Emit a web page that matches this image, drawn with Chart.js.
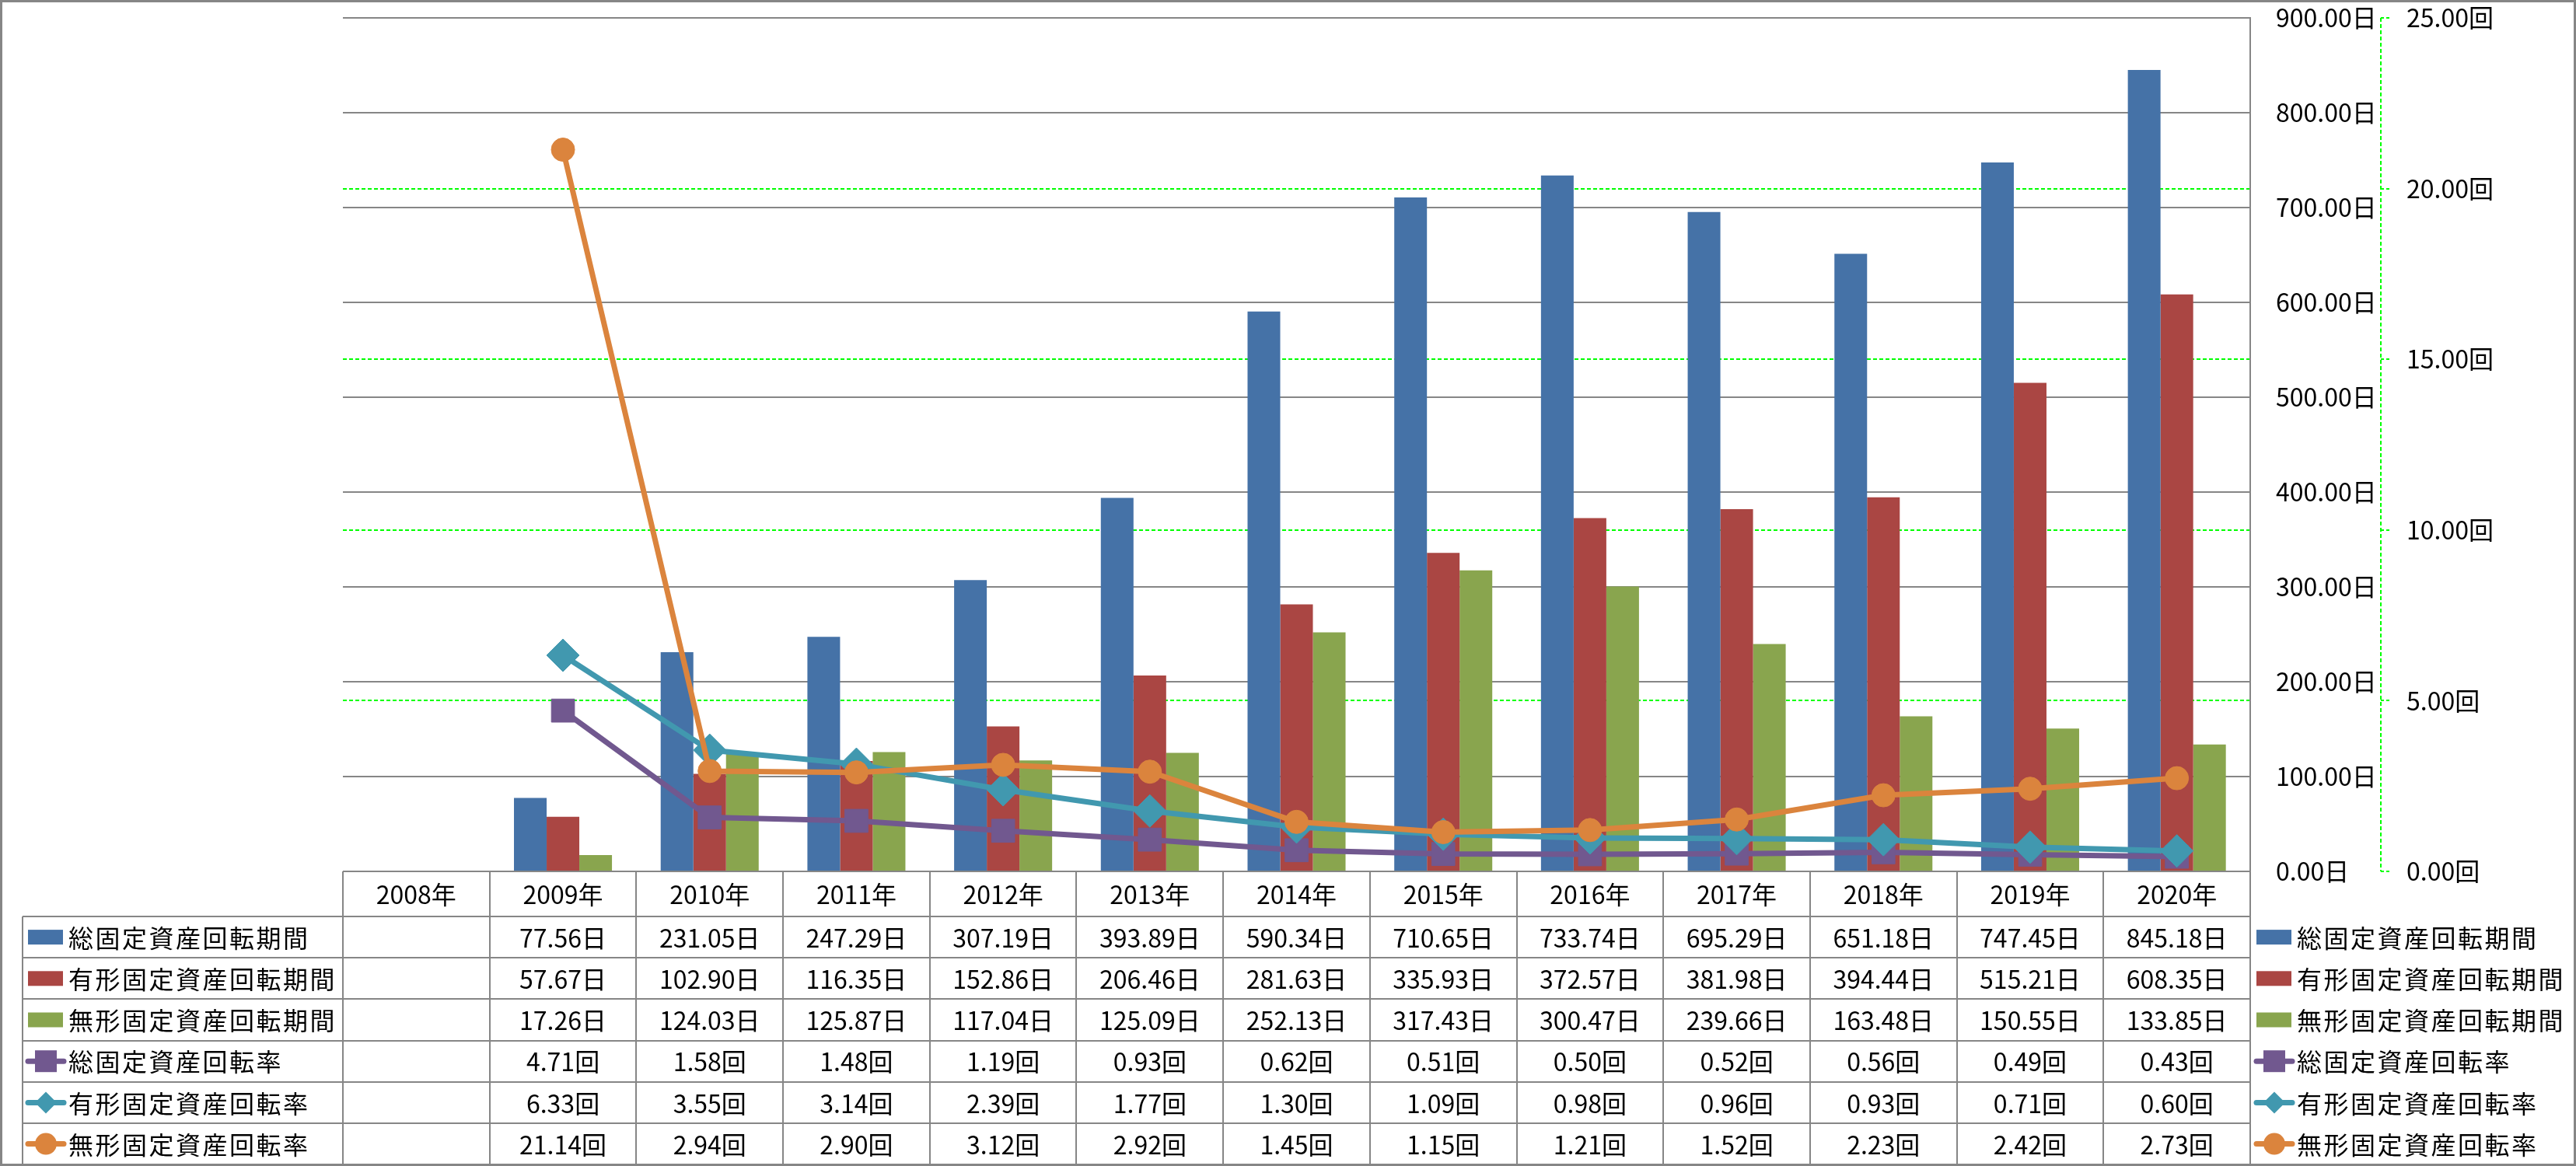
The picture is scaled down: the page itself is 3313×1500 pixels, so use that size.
<!DOCTYPE html>
<html lang="ja">
<head>
<meta charset="utf-8">
<title>固定資産回転期間・回転率</title>
<script src="https://cdn.jsdelivr.net/npm/chart.js@4/dist/chart.umd.min.js"></script>
<style>
  html, body { margin: 0; padding: 0; background: #fff; }
  canvas { display: block; }
</style>
</head>
<body>
<canvas id="chart" width="3313" height="1500"></canvas>
<script>
// Data
const years = ["2008年", "2009年", "2010年", "2011年", "2012年", "2013年", "2014年",
  "2015年", "2016年", "2017年", "2018年", "2019年", "2020年"];

const totalPeriod = [null, 77.56, 231.05, 247.29, 307.19, 393.89, 590.34, 710.65, 733.74, 695.29, 651.18, 747.45, 845.18];
const tangiblePeriod = [null, 57.67, 102.90, 116.35, 152.86, 206.46, 281.63, 335.93, 372.57, 381.98, 394.44, 515.21, 608.35];
const intangiblePeriod = [null, 17.26, 124.03, 125.87, 117.04, 125.09, 252.13, 317.43, 300.47, 239.66, 163.48, 150.55, 133.85];

const totalRate = [null, 4.71, 1.58, 1.48, 1.19, 0.93, 0.62, 0.51, 0.50, 0.52, 0.56, 0.49, 0.43];
const tangibleRate = [null, 6.33, 3.55, 3.14, 2.39, 1.77, 1.30, 1.09, 0.98, 0.96, 0.93, 0.71, 0.60];
const intangibleRate = [null, 21.14, 2.94, 2.90, 3.12, 2.92, 1.45, 1.15, 1.21, 1.52, 2.23, 2.42, 2.73];

const seriesNames = ["総固定資産回転期間", "有形固定資産回転期間", "無形固定資産回転期間",
  "総固定資産回転率", "有形固定資産回転率", "無形固定資産回転率"];

// Axis ranges
const dayMax = 900, dayStep = 100;
const rateMax = 25, rateStep = 5;

// Styles
const BLUE = "#4572A7";
const RED = "#AA4643";
const GREEN = "#89A54E";
const PURPLE = "#71588F";
const TEAL = "#4198AF";
const ORANGE = "#DB843D";
const GRID = "#868686";
const LIME = "#00FF00";
const FONT = '"Noto Sans CJK JP", "Noto Sans CJK SC", sans-serif';

// rows of the data table / legend
const rows = [
  { name: seriesNames[0], values: totalPeriod, unit: "日", kind: "bar", color: BLUE },
  { name: seriesNames[1], values: tangiblePeriod, unit: "日", kind: "bar", color: RED },
  { name: seriesNames[2], values: intangiblePeriod, unit: "日", kind: "bar", color: GREEN },
  { name: seriesNames[3], values: totalRate, unit: "回", kind: "line", color: PURPLE, marker: "rect" },
  { name: seriesNames[4], values: tangibleRate, unit: "回", kind: "line", color: TEAL, marker: "diamond" },
  { name: seriesNames[5], values: intangibleRate, unit: "回", kind: "line", color: ORANGE, marker: "circle" }
];

// Draw a legend key (bar swatch or line with marker)
function drawKey(ctx, row, x0, cy) {
  ctx.save();
  ctx.fillStyle = row.color;
  ctx.strokeStyle = row.color;
  if (row.kind === "bar") {
    ctx.fillRect(x0 + 3, cy - 9.5, 45, 19);
  } else {
    ctx.lineWidth = 7;
    ctx.lineCap = "round";
    ctx.beginPath();
    ctx.moveTo(x0 + 3, cy);
    ctx.lineTo(x0 + 49, cy);
    ctx.stroke();
    const mx = x0 + 26;
    ctx.beginPath();
    if (row.marker === "rect") {
      ctx.rect(mx - 14, cy - 14, 28, 28);
    } else if (row.marker === "diamond") {
      ctx.moveTo(mx - 14, cy);
      ctx.lineTo(mx, cy - 14);
      ctx.lineTo(mx + 14, cy);
      ctx.lineTo(mx, cy + 14);
      ctx.closePath();
    } else {
      ctx.arc(mx, cy, 14, 0, Math.PI * 2);
    }
    ctx.fill();
  }
  ctx.restore();
}

// Data table under the plot + legend on the right + outer frame
const tablePlugin = {
  id: "dataTable",
  afterDraw(chart) {
    const ctx = chart.ctx;
    const area = chart.chartArea;
    const xs = chart.scales.x;
    const y1 = chart.scales.y1;
    const colW = (area.right - area.left) / years.length;
    const headTop = area.bottom;
    const headH = 58;
    const rowH = 53.2;
    const tableLeft = area.left - 412;
    const bodyTop = headTop + headH;
    const bottom = bodyTop + rowH * rows.length;

    ctx.save();

    // dashed secondary axis line
    ctx.strokeStyle = LIME;
    ctx.lineWidth = 2;
    ctx.setLineDash([5, 3]);
    ctx.beginPath();
    ctx.moveTo(y1.left, area.top);
    ctx.lineTo(y1.left, area.bottom);
    ctx.stroke();
    ctx.setLineDash([]);

    // table grid
    ctx.strokeStyle = GRID;
    ctx.lineWidth = 2;
    ctx.beginPath();
    for (let i = 0; i <= rows.length; i++) {
      const y = Math.round(bodyTop + i * rowH);
      ctx.moveTo(tableLeft, y);
      ctx.lineTo(area.right, y);
    }
    ctx.moveTo(tableLeft, bodyTop);
    ctx.lineTo(tableLeft, bottom);
    for (let i = 0; i <= years.length; i++) {
      const x = Math.round(area.left + i * colW);
      ctx.moveTo(x, headTop);
      ctx.lineTo(x, bottom);
    }
    ctx.stroke();

    // header
    ctx.fillStyle = "#000";
    ctx.font = "32px " + FONT;
    ctx.textAlign = "center";
    ctx.textBaseline = "middle";
    years.forEach((label, i) => {
      ctx.fillText(label, xs.getPixelForValue(i), headTop + headH / 2 + 1);
    });

    // body rows
    rows.forEach((row, r) => {
      const cy = bodyTop + rowH * (r + 0.5);
      ctx.textAlign = "center";
      row.values.forEach((v, i) => {
        if (v === null) return;
        ctx.fillText(v.toFixed(2) + row.unit, xs.getPixelForValue(i), cy + 1);
      });

      // row label in the table
      drawKey(ctx, row, tableLeft + 4, cy);
      ctx.textAlign = "left";
      ctx.letterSpacing = "2.5px";
      ctx.fillStyle = "#000";
      ctx.fillText(row.name, tableLeft + 59, cy + 1);

      // legend on the right
      drawKey(ctx, row, area.right + 5, cy);
      ctx.fillStyle = "#000";
      ctx.fillText(row.name, area.right + 60, cy + 1);
      ctx.letterSpacing = "0px";
    });

    // outer frame
    ctx.strokeStyle = GRID;
    ctx.lineWidth = 3;
    ctx.strokeRect(1.5, 1.5, chart.width - 3, chart.height - 3);

    ctx.restore();
  }
};

const lineBase = {
  type: "line",
  yAxisID: "y1",
  borderWidth: 7,
  tension: 0,
  borderJoinStyle: "round",
  pointBorderWidth: 1
};

// keep the plot edges where the layout padding puts them
function fitAxis(width) {
  return s => {
    s.width = width;
    s.paddingTop = 0;
    s.paddingBottom = 0;
  };
}

new Chart(document.getElementById("chart"), {
  type: "bar",
  data: {
    labels: years,
    datasets: [
      { label: seriesNames[0], data: totalPeriod, backgroundColor: BLUE, yAxisID: "y", order: 10 },
      { label: seriesNames[1], data: tangiblePeriod, backgroundColor: RED, yAxisID: "y", order: 10 },
      { label: seriesNames[2], data: intangiblePeriod, backgroundColor: GREEN, yAxisID: "y", order: 10 },
      { ...lineBase, label: seriesNames[3], data: totalRate, borderColor: PURPLE, backgroundColor: PURPLE,
        pointBackgroundColor: PURPLE, pointBorderColor: PURPLE, pointStyle: "rect", pointRadius: 21, order: 3 },
      { ...lineBase, label: seriesNames[4], data: tangibleRate, borderColor: TEAL, backgroundColor: TEAL,
        pointBackgroundColor: TEAL, pointBorderColor: TEAL, pointStyle: "rectRot", pointRadius: 21, order: 2 },
      { ...lineBase, label: seriesNames[5], data: intangibleRate, borderColor: ORANGE, backgroundColor: ORANGE,
        pointBackgroundColor: ORANGE, pointBorderColor: ORANGE, pointStyle: "circle", pointRadius: 15, order: 1 }
    ]
  },
  options: {
    responsive: false,
    devicePixelRatio: 1,
    animation: false,
    layout: { padding: { left: 441, top: 23, right: 51, bottom: 379 } },
    datasets: {
      bar: { barPercentage: 1, categoryPercentage: 0.668, borderWidth: 0 }
    },
    plugins: {
      legend: { display: false },
      tooltip: { enabled: false }
    },
    scales: {
      x: { display: false },
      y: {
        position: "right",
        min: 0,
        max: dayMax,
        afterFit: fitAxis(168),
        ticks: {
          stepSize: dayStep,
          padding: 33,
          color: "#000",
          font: { family: FONT, size: 32 },
          callback: v => v.toFixed(2) + "日"
        },
        grid: { color: GRID, lineWidth: 2, drawTicks: false },
        border: { display: true, color: GRID, width: 2 }
      },
      y1: {
        position: "right",
        min: 0,
        max: rateMax,
        afterFit: fitAxis(200),
        ticks: {
          stepSize: rateStep,
          padding: 22,
          color: "#000",
          font: { family: FONT, size: 32 },
          callback: v => v.toFixed(2) + "回"
        },
        grid: {
          color: c => (c.tick && (c.tick.value === 0 || c.tick.value === rateMax)) ? "rgba(0,0,0,0)" : LIME,
          lineWidth: 2,
          tickLength: 11,
          tickColor: LIME,
          tickWidth: 2,
          tickBorderDash: [4, 3]
        },
        border: { display: false, dash: [5, 3] }
      }
    }
  },
  plugins: [tablePlugin]
});
</script>
</body>
</html>
